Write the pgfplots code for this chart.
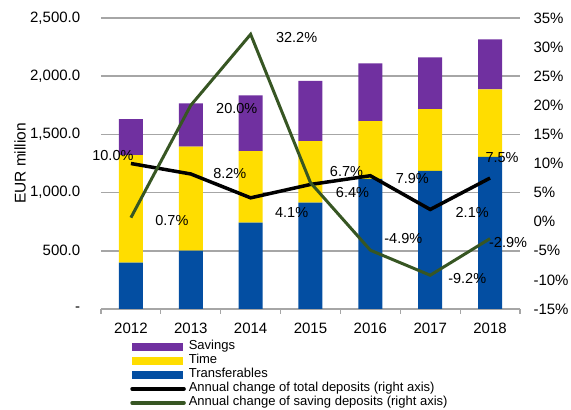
\documentclass[border=0pt]{standalone}
\usepackage{pgfplots}
\pgfplotsset{compat=1.18}
\usepackage{fontspec}
\setmainfont{Liberation Sans}

\definecolor{savings}{RGB}{112,48,160}
\definecolor{timedep}{RGB}{255,221,0}
\definecolor{transf}{RGB}{3,78,162}
\definecolor{savgreen}{RGB}{55,86,35}
\definecolor{gridgray}{RGB}{166,166,166}

% deposits, EUR million
\pgfplotstableread{
x transf time savings
0 398  925 309
1 501  893 373
2 742  615 479
3 913  530 516
4 1117 498 496
5 1186 532 444
6 1306 581 430
}\deposits

% annual changes (%), with label offsets in pt
\pgfplotstableread{
x y dx dy
0 10.0 -18 8
1 8.2 39 0
2 4.1 41 -15
3 6.4 42 -8.5
4 7.9 42 -3
5 2.1 42 -3
6 7.5 12 21
}\totalchg

\pgfplotstableread{
x y dx dy
0 0.7 41 -3
1 20.0 46 -3
2 32.2 46 -3
3 6.7 36 11
4 -4.9 33 12
5 -9.2 37 -3
6 -2.9 18 -3.5
}\savchg

\begin{document}
\begin{tikzpicture}
\useasboundingbox (0pt,0pt) rectangle (571pt,410pt);

\begin{axis}[
  at={(101pt,101pt)}, anchor=south west,
  scale only axis, width=419pt, height=291pt,
  xmin=-0.5, xmax=6.5, ymin=0, ymax=2500,
  ybar stacked, bar width=24pt,
  axis line style={draw=none},
  xtick={0,...,6},
  xticklabels={2012,2013,2014,2015,2016,2017,2018},
  minor xtick={-0.5,0.5,...,6.5},
  major x tick style={draw=none},
  minor x tick style={draw=gridgray, line width=1.2pt},
  minor tick length=5pt,
  tick align=outside,
  xtick pos=bottom,
  ytick={0,500,...,2500},
  yticklabels={{-\hspace{16pt}},{500.0},{1,000.0},{1,500.0},{2,000.0},{2,500.0}},
  ytick pos=left,
  ytick style={draw=none},
  ymajorgrids,
  grid style={gridgray, line width=1.5pt},
  tick label style={font=\fontsize{15}{15}\selectfont},
  yticklabel style={xshift=-13pt},
  xticklabel style={yshift=-6.5pt},
  ylabel={EUR million},
  every axis y label/.style={at={(rel axis cs:0,0.5)}, xshift=-81pt, rotate=90, anchor=center, font=\fontsize{15.5}{15.5}\selectfont},
]
\addplot[fill=transf, draw=none] table[x=x, y=transf] {\deposits};
\addplot[fill=timedep, draw=none] table[x=x, y=time] {\deposits};
\addplot[fill=savings, draw=none] table[x=x, y=savings] {\deposits};
\end{axis}

\begin{axis}[
  at={(101pt,101pt)}, anchor=south west,
  scale only axis, width=419pt, height=291pt,
  xmin=-0.5, xmax=6.5, ymin=-15, ymax=35,
  hide x axis,
  axis line style={draw=none},
  ytick={-15,-10,...,35},
  yticklabels={-15\%,-10\%,-5\%,0\%,5\%,10\%,15\%,20\%,25\%,30\%,35\%},
  ytick pos=right,
  ytick style={draw=none},
  yticklabel style={font=\fontsize{15}{15}\selectfont, anchor=west, xshift=10pt},
  clip=false,
  legend style={at={(rel axis cs:0.0695,-0.105)}, anchor=north west, draw=none, fill=none,
    inner sep=0pt, column sep=3pt, row sep=0pt,
    nodes={inner sep=0pt, text height=10pt, text depth=4pt},
    font=\fontsize{13}{14}\selectfont},
  legend cell align=left,
  barleg/.style={legend image code/.code={\fill[#1] (0pt,-3.5pt) rectangle (50pt,3.5pt);}},
  lineleg/.style={legend image code/.code={\draw[#1, line width=3.5pt, line cap=round] (0pt,0pt) -- (52pt,0pt);}},
  lbl/.style={
    nodes near coords={\pgfmathprintnumber[fixed,fixed zerofill,precision=1,assume math mode=true]{\pgfplotspointmeta}\%},
    point meta=y,
    visualization depends on={\thisrow{dx} \as \dx},
    visualization depends on={\thisrow{dy} \as \dy},
    every node near coord/.append style={anchor=center, xshift=\dx pt, yshift=\dy pt, text=black, font=\fontsize{14.5}{14.5}\selectfont},
  },
]
\addlegendimage{barleg=savings}
\addlegendentry{Savings}
\addlegendimage{barleg=timedep}
\addlegendentry{Time}
\addlegendimage{barleg=transf}
\addlegendentry{Transferables}
\addplot[black, line width=3.5pt, mark=none, lbl, lineleg=black] table[x=x, y=y] {\totalchg};
\addlegendentry{Annual change of total deposits (right axis)}
\addplot[savgreen, line width=3pt, mark=none, lbl, lineleg=savgreen] table[x=x, y=y] {\savchg};
\addlegendentry{Annual change of saving deposits (right axis)}
\end{axis}
\end{tikzpicture}
\end{document}
